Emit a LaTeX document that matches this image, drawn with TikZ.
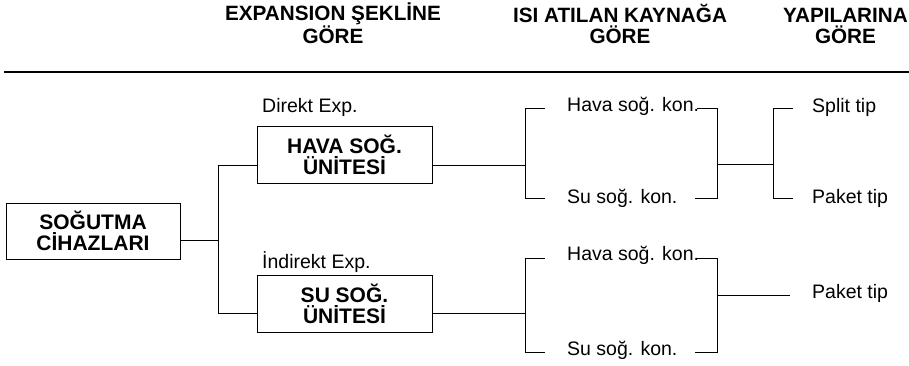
\documentclass[tikz,border=0pt]{standalone}
\usepackage{fontspec}
\setmainfont{Liberation Sans}
\begin{document}
\begin{tikzpicture}[x=1pt,y=-1pt,
  hdr/.style={font=\fontsize{20.7}{21}\selectfont\bfseries, align=center, inner sep=0pt},
  boxnode/.style={draw, line width=1pt, font=\fontsize{21}{20.5}\selectfont\bfseries, align=center, inner sep=0pt, minimum width=175pt, minimum height=57pt},
  lbl/.style={font=\fontsize{19.5}{21}\selectfont, inner sep=0pt, anchor=base west},
  conn/.style={line width=1pt},
  rule/.style={line width=1.6pt}]
\useasboundingbox (0,0) rectangle (909,365);

% headers (base anchor = baseline of the last line)
\node[hdr, anchor=base] (h1) at (333,43) {EXPANSION ŞEKLİNE\\GÖRE};
\node[hdr, anchor=base] (h2) at (620,43) {ISI ATILAN KAYNAĞA\\GÖRE};
\node[hdr, anchor=base east] (h3) at (908,43) {YAPILARINA\\GÖRE};
\coordinate (rl) at (4,72);
\coordinate (rr) at (909,72);
\draw[rule] (rl) -- (rr);

% boxes
\node[boxnode, minimum width=174pt, minimum height=56pt] (cih) at (93,231) {SOĞUTMA\\CİHAZLARI};
\node[boxnode] (hava) at (344.5,155) {HAVA SOĞ.\\ÜNİTESİ};
\node[boxnode] (su) at (344.5,304) {SU SOĞ.\\ÜNİTESİ};

% labels
\node[lbl] (dir) at (262,112) {Direkt Exp.};
\node[lbl] (ind) at (262,268) {İndirekt Exp.};
\node[lbl] (hk1) at (567,111) {Hava soğ. kon.};
\node[lbl] (sk1) at (567,203) {Su soğ. kon.};
\node[lbl] (hk2) at (567,260) {Hava soğ. kon.};
\node[lbl] (sk2) at (567,355) {Su soğ. kon.};
\node[lbl] (sp) at (812,112) {Split tip};
\node[lbl] (pk1) at (812,203) {Paket tip};
\node[lbl] (pk2) at (812,298) {Paket tip};

% first junction
\coordinate (j0) at (218,240);
\coordinate (j0t) at (218,165);
\coordinate (j0b) at (218,313);
\draw[conn] (cih.east |- j0) -- (j0);
\draw[conn] (j0t) -- (j0b);
\draw[conn] (j0t) -- (hava.west |- j0t);
\draw[conn] (j0b) -- (su.west |- j0b);

% upper bracket (condensers)
\coordinate (a1m) at (525,165);
\coordinate (a1t) at (525,108);
\coordinate (a1b) at (525,198);
\coordinate (a1ts) at (545,108);
\coordinate (a1bs) at (545,198);
\draw[conn] (hava.east |- a1m) -- (a1m);
\draw[conn] (a1ts) -- (a1t) -- (a1b) -- (a1bs);
\coordinate (c1ts) at (697,108);
\coordinate (c1t) at (717,108);
\coordinate (c1b) at (717,198);
\coordinate (c1bs) at (695,198);
\coordinate (c1m) at (717,164);
\draw[conn] (c1ts) -- (c1t) -- (c1b) -- (c1bs);
% upper bracket (types)
\coordinate (d1m) at (773,164);
\coordinate (d1t) at (773,108);
\coordinate (d1b) at (773,198);
\coordinate (d1ts) at (793,108);
\coordinate (d1bs) at (793,198);
\draw[conn] (c1m) -- (d1m);
\draw[conn] (d1ts) -- (d1t) -- (d1b) -- (d1bs);

% lower bracket (condensers)
\coordinate (a2m) at (525,313);
\coordinate (a2t) at (525,258);
\coordinate (a2b) at (525,352);
\coordinate (a2ts) at (545,258);
\coordinate (a2bs) at (545,352);
\draw[conn] (su.east |- a2m) -- (a2m);
\draw[conn] (a2ts) -- (a2t) -- (a2b) -- (a2bs);
\coordinate (c2ts) at (697,258);
\coordinate (c2t) at (717,258);
\coordinate (c2b) at (717,352);
\coordinate (c2bs) at (695,352);
\coordinate (c2m) at (717,295);
\coordinate (e2) at (790,295);
\draw[conn] (c2ts) -- (c2t) -- (c2b) -- (c2bs);
\draw[conn] (c2m) -- (e2);
\end{tikzpicture}
\end{document}
